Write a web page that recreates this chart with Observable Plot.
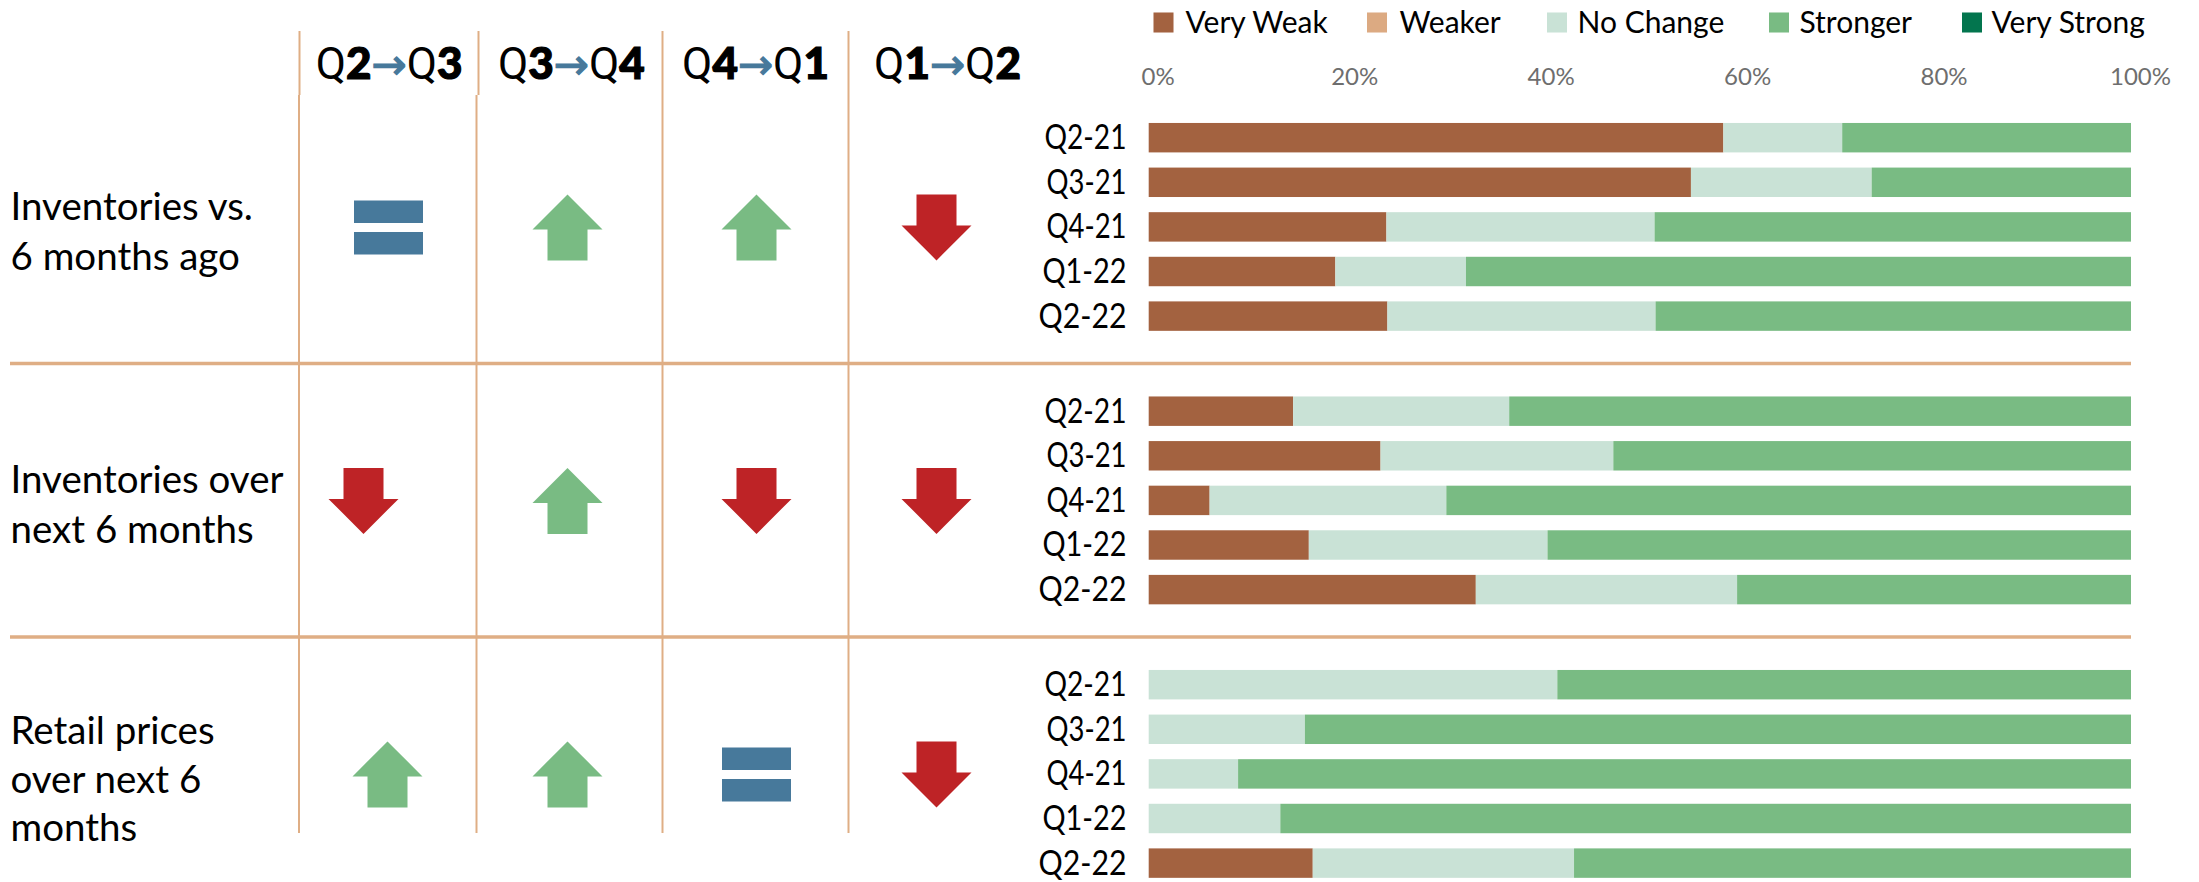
<!DOCTYPE html>
<html><head><meta charset="utf-8">
<script src="https://cdn.jsdelivr.net/npm/d3@7"></script>
<script src="https://cdn.jsdelivr.net/npm/@observablehq/plot@0.6"></script>
<style>html,body{margin:0;padding:0;background:#fff}svg{display:block}</style>
</head><body><div id="chart"></div>
<script>
const groups = ["Inventories vs.\n6 months ago", "Inventories over\nnext 6 months", "Retail prices\nover next 6\nmonths"];
const quarters = ["Q2-21", "Q3-21", "Q4-21", "Q1-22", "Q2-22"];
const categories = ["Very Weak", "Weaker", "No Change", "Stronger", "Very Strong"];
const colors = ["#a36240", "#dcaa82", "#c9e2d6", "#79bb83", "#03754e"];
const veryWeak = [58.5,55.2,24.2,19.0,24.3, 14.7,23.6,6.2,16.3,33.3, 0,0,0,0,16.7];
const weaker = [0,0,0,0,0, 0,0,0,0,0, 0,0,0,0,0];
const noChange = [12.1,18.4,27.3,13.3,27.3, 22.0,23.7,24.1,24.3,26.6, 41.6,15.9,9.1,13.4,26.6];
const stronger = [29.4,26.4,48.5,67.7,48.4, 63.3,52.7,69.7,59.4,40.1, 58.4,84.1,90.9,86.6,56.7];
const veryStrong = [0,0,0,0,0, 0,0,0,0,0, 0,0,0,0,0];
const series = [veryWeak, weaker, noChange, stronger, veryStrong];
const headers = ["Q2→Q3", "Q3→Q4", "Q4→Q1", "Q1→Q2"];
const directions = [
  ["equal","up","up","down"],
  ["down","up","down","down"],
  ["up","up","equal","down"]
];

const rows = series.flatMap((vals, s) => vals.map((v, i) => ({
  category: categories[s], value: v,
  group: groups[Math.floor(i / 5)], quarter: quarters[i % 5]
})));

// --- layout (pixels) ---
const facetTop = 89.5, facetStep = 273.5, x0 = 1148.7, x1 = 2131;
const line = "#dfae85";
const arrowX = [[388,567,756,936],[363,567,756,936],[387,567,756,936]];
const headerX = [388.7,570.8,755,947];
const headerY = 64.5;
const upper = [299,478,662,848], lower = [298.5,476,662,848];
const legendSwatch = [1163,1376.5,1556.5,1778.5,1971.5];
const legendLabel = [1185,1399,1577,1799,1991];
const labelDy = [1.4,0.7,3];
const lineH = [50,50,48.5];
const tickWidth = {"Q2-21":82,"Q3-21":80,"Q4-21":80,"Q1-22":84,"Q2-22":88};

const up = {draw(c){c.moveTo(0,-33);c.lineTo(35,2);c.lineTo(20,2);c.lineTo(20,33);c.lineTo(-20,33);c.lineTo(-20,2);c.lineTo(-35,2);c.closePath();}};
const down = {draw(c){c.moveTo(0,33);c.lineTo(35,-2);c.lineTo(20,-2);c.lineTo(20,-33);c.lineTo(-20,-33);c.lineTo(-20,-2);c.lineTo(-35,-2);c.closePath();}};
const equal = {draw(c){c.rect(-34.5,-27,69,22.5);c.rect(-34.5,4.5,69,22.5);}};
const sym = {up, down, equal};
const symFill = {up:"#79bb83", down:"#be2326", equal:"#47799b"};
const font = "Lato, 'Noto Sans', sans-serif";
const top1 = groups[0];

const marks = [];
// separators
groups.slice(1).forEach(g => marks.push(Plot.ruleY([g], {
  y: () => quarters[0], fy: () => g, stroke: line, strokeWidth: 3.5, insetLeft: 10, insetRight: 68,
  dy: -(18.3 + 0.34*44.6 + 29.4/2)
})));
// vertical rules
upper.forEach(px => marks.push(Plot.ruleX([0], {fy:()=>top1, dx:px-x0, stroke:line, strokeWidth:2, insetTop:-58.5, insetBottom:268})));
lower.forEach(px => groups.forEach((g,i) => marks.push(Plot.ruleX([0], {
  fy:()=>g, dx:px-x0, stroke:line, strokeWidth:2,
  insetTop: i==0 ? 5.5 : 0, insetBottom: i==2 ? 77 : 0
}))));
// bars
marks.push(Plot.barX(rows, Plot.stackX({
  x:"value", y:"quarter", fy:"group", fill:"category", order: categories
})));
// arrows
directions.forEach((r,gi) => r.forEach((d,ci) => marks.push(Plot.dot([d], {
  frameAnchor:"left", y:()=>quarters[2], fy:()=>groups[gi], dx:arrowX[gi][ci],
  symbol:sym[d], fill:symFill[d], r:10
}))));
// row labels
groups.forEach((g,i) => marks.push(Plot.text([g], {
  frameAnchor:"left", y:()=>quarters[2], fy:()=>g, text:d=>d, dx:10, dy:labelDy[i],
  textAnchor:"start", fontSize:38.5, fontFamily:font, fill:"#000", lineHeight:lineH[i]/38.5
})));
// headers
headers.forEach((h,i) => marks.push(Plot.text([h], {
  frameAnchor:"top-left", fy:()=>top1, text:d=>d, dx:headerX[i], dy:headerY-facetTop,
  textAnchor:"middle", lineAnchor:"middle", fontSize:44, fontFamily:"Roboto", fill:"#000"
})));
// legend
categories.forEach((c,i) => {
  marks.push(Plot.dot([c], {frameAnchor:"top-left", fy:()=>top1, dx:legendSwatch[i], dy:22-facetTop,
    symbol:"square", r:11.3, fill:d=>d}));
  marks.push(Plot.text([c], {frameAnchor:"top-left", fy:()=>top1, text:d=>d, dx:legendLabel[i], dy:23-facetTop,
    textAnchor:"start", lineAnchor:"middle", fontSize:30, fontFamily:font, fill:"#000"}));
});
// axes
marks.push(Plot.axisX({anchor:"top", ticks:[0,20,40,60,80,100], tickFormat:d=>d+"%", tickSize:0, tickPadding:0, dx:9, dy:-5.5,
  fontSize:24, fontFamily:font, fill:"#6e6e6e", label:null}));
marks.push(Plot.axisY({anchor:"left", tickSize:0, tickPadding:0, dx:1126, fontSize:34, fontFamily:font, fill:"#000", label:null}));

const chart = Plot.plot({
  width:2199, height:882,
  marginTop:0, marginRight:0, marginBottom:0, marginLeft:0,
  style:{background:"#fff", overflow:"visible"},
  x:{domain:[0,100], range:[x0,x1], axis:null},
  y:{domain:quarters, range:[18.3,256.5], padding:0.34, round:false, axis:null},
  fy:{domain:groups, range:[facetTop, facetTop+3*facetStep], padding:0, round:false, axis:null},
  color:{type:"ordinal", domain:categories, range:colors},
  marks
});
document.getElementById("chart").append(chart);
// Condense the quarter tick labels, as in the reference
d3.select(chart).selectAll("text").filter(function(){return this.textContent in tickWidth})
  .each(function(){ d3.select(this).attr("textLength",tickWidth[this.textContent]).attr("lengthAdjust","spacingAndGlyphs"); });
// Header styling: light Q, heavy numerals, blue arrow, as tspans of one text
d3.select(chart).selectAll("text").filter(function(){return /^Q\d→Q\d$/.test(this.textContent)}).each(function(){
  const t = this.textContent, el = d3.select(this); el.text(null);
  for (const ch of t) {
    const s = el.append("tspan").text(ch);
    if (ch==="Q") s.attr("font-family","Roboto").attr("font-weight",400);
    else if (ch==="→") s.attr("fill","#47799b").attr("stroke","#47799b").attr("stroke-width",1.2).attr("font-family","'DejaVu Sans'").attr("font-size",42);
    else s.attr("font-family","Lato").attr("font-weight",900).attr("stroke","#000").attr("stroke-width",1.2);
  }
});
</script></body></html>
